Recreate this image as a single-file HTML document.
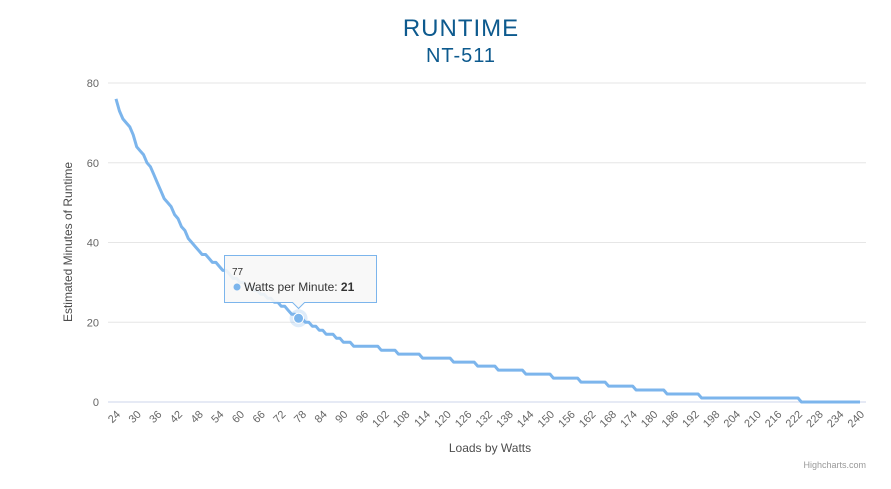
<!DOCTYPE html>
<html><head><meta charset="utf-8">
<style>
body{margin:0;background:#fff;}
svg{display:block;font-family:"Liberation Sans",sans-serif;}
</style></head>
<body>
<svg id="chart" width="891" height="489" viewBox="0 0 891 489">
<rect width="891" height="489" fill="#fff"/>
<text x="461" y="36" text-anchor="middle" font-size="24" fill="#0d5a8e" letter-spacing="1" transform="scale(1,1)">RUNTIME</text>
<text x="461" y="62" text-anchor="middle" font-size="20" fill="#0d5a8e" letter-spacing="1">NT-511</text>
<g id="grid"></g>
<g id="yticks"></g>
<g id="xticks"></g>
<text transform="translate(72,242) rotate(-90)" text-anchor="middle" font-size="12" fill="#4d4d4d">Estimated Minutes of Runtime</text>
<text x="490" y="452" text-anchor="middle" font-size="12" fill="#4d4d4d">Loads by Watts</text>
<path id="series" fill="none" stroke="#7cb5ec" stroke-width="3" stroke-linejoin="round"/>
<g id="hover"></g>
<text x="866" y="468" text-anchor="end" font-size="9" fill="#999">Highcharts.com</text>
</svg>
<script>
const categories = [];
for (let w = 24; w <= 240; w++) categories.push(w);
const values = [76,73,71,70,69,67,64,63,62,60,59,57,55,53,51,50,49,47,46,44,43,41,40,39,38,37,37,36,35,35,34,33,33,32,31,31,30,30,29,29,28,28,27,27,26,26,25,25,24,24,23,22,22,21,21,20,20,19,19,18,18,17,17,17,16,16,15,15,15,14,14,14,14,14,14,14,14,13,13,13,13,13,12,12,12,12,12,12,12,11,11,11,11,11,11,11,11,11,10,10,10,10,10,10,10,9,9,9,9,9,9,8,8,8,8,8,8,8,8,7,7,7,7,7,7,7,7,6,6,6,6,6,6,6,6,5,5,5,5,5,5,5,5,4,4,4,4,4,4,4,4,3,3,3,3,3,3,3,3,3,2,2,2,2,2,2,2,2,2,2,1,1,1,1,1,1,1,1,1,1,1,1,1,1,1,1,1,1,1,1,1,1,1,1,1,1,1,1,1,0,0,0,0,0,0,0,0,0,0,0,0,0,0,0,0,0,0];
const yTicks = [0,20,40,60,80];
const xLabelStep = 6;
const hoverIndex = 53;
const seriesName = "Watts per Minute";

const NS = "http://www.w3.org/2000/svg";
const x0 = 116, x1 = 860, yBase = 402, yTop = 83;
function xPos(i){ return x0 + i * (x1 - x0) / (categories.length - 1); }
function yPos(v){ return yBase - v * (yBase - yTop) / 80; }
function mk(tag, attrs, parent){ const e = document.createElementNS(NS, tag); for (const k in attrs) e.setAttribute(k, attrs[k]); parent.appendChild(e); return e; }

const grid = document.getElementById('grid');
const yt = document.getElementById('yticks');
yTicks.forEach(t => {
  const l = mk('line', {x1:108, x2:866, y1:yPos(t), y2:yPos(t), stroke: t===0 ? '#ccd6eb' : '#e6e6e6', 'stroke-width':1}, grid);
  
  
  const tx = mk('text', {x:99, y:yPos(t)+4, 'text-anchor':'end', 'font-size':11, fill:'#666'}, yt);
  
  
  tx.textContent = t;
});
const xt = document.getElementById('xticks');
categories.forEach((c, i) => {
  if ((c - categories[0]) % xLabelStep !== 0) return;
  const x = xPos(i);
  const tx = mk('text', {transform:`translate(${x+5},${yBase+13}) rotate(-45)`, 'text-anchor':'end', 'font-size':11, fill:'#666'}, xt);
  
  
  tx.textContent = c;
});
let d = '';
values.forEach((v, i) => { d += (i ? 'L' : 'M') + xPos(i).toFixed(1) + ',' + yPos(v).toFixed(1); });
document.getElementById('series').setAttribute('d', d);

const hv = document.getElementById('hover');
const hx = xPos(hoverIndex), hy = yPos(values[hoverIndex]);
const halo = mk('circle', {cx:hx, cy:hy, r:9, fill:'#7cb5ec', 'fill-opacity':0.25}, hv);


const pt = mk('circle', {cx:hx, cy:hy, r:5, fill:'#7cb5ec', stroke:'#fff', 'stroke-width':1}, hv);


const tg = mk('g', {}, hv);


const bx = 224.5, by = 255.5, bw = 152, bh = 47;
mk('path', {d:`M${bx},${by}h${bw}v${bh}H${hx+6}l-6,6l-6,-6H${bx}Z`, fill:'rgba(247,247,247,0.9)', stroke:'#7cb5ec', 'stroke-width':1}, tg);
const t1 = mk('text', {x:232, y:275, 'font-size':10, fill:'#333'}, tg);
t1.textContent = categories[hoverIndex];
mk('circle', {cx:237, cy:287, r:3.5, fill:'#7cb5ec'}, tg);
const t2 = mk('text', {x:244, y:291, 'font-size':12, fill:'#333'}, tg);
t2.innerHTML = seriesName + ': <tspan font-weight="bold">' + values[hoverIndex] + '</tspan>';
</script>
</body></html>
